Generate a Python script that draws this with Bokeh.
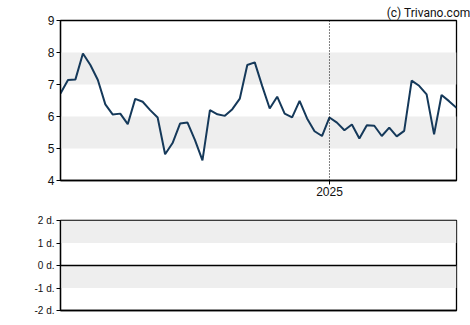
import pandas as pd
from bokeh.plotting import figure
from bokeh.layouts import column
from bokeh.models import (BoxAnnotation, Span, FixedTicker, CustomJSTickFormatter,
                          Range1d, ColumnDataSource)
from bokeh.embed import file_html
from bokeh.resources import INLINE

# ---- data ----
start_date = "2024-04-24"
prices = [6.72, 7.14, 7.16, 7.97, 7.61, 7.14, 6.38, 6.06, 6.09, 5.76, 6.55, 6.46, 6.20,
          5.97, 4.82, 5.17, 5.78, 5.81, 5.26, 4.63, 6.20, 6.07, 6.02, 6.23, 6.56,
          7.61, 7.69, 6.95, 6.25, 6.62, 6.09, 5.97, 6.49, 5.94, 5.54, 5.39, 5.97,
          5.81, 5.57, 5.75, 5.31, 5.73, 5.71, 5.39, 5.65, 5.38, 5.55, 7.12, 6.96,
          6.69, 5.44, 6.67, 6.48, 6.27]
dates = pd.date_range(start_date, periods=len(prices), freq="7D")
year_marker = pd.Timestamp("2025-01-01")
year_label = "2025"
price_ticks = [4, 5, 6, 7, 8, 9]
price_bands = [(5, 6), (7, 8)]
lower_ticks = [-2, -1, 0, 1, 2]
lower_labels = {-2: "-2 d.", -1: "-1 d.", 0: "0 d.", 1: "1 d.", 2: "2 d."}
lower_bands = [(1, 2), (-1, 0)]
credit = "(c) Trivano.com"

LINE = "#15395a"
BAND = "#eeeeee"
FONT = "Liberation Sans"

src = ColumnDataSource(dict(date=dates, price=prices))


def style(p, size):
    p.outline_line_color = "black"
    p.outline_line_width = 1.3
    p.grid.visible = False
    for ax in p.axis:
        ax.axis_line_color = "black"
        ax.axis_line_width = 1.3
        ax.major_tick_line_color = "black"
        ax.major_tick_out = 4
        ax.major_tick_in = 0
        ax.minor_tick_line_color = None
        ax.major_label_text_font = FONT
        ax.major_label_text_font_size = size
        ax.major_label_text_color = "#111111"
        ax.major_label_standoff = 2


# ---- top chart ----
p = figure(width=470, height=205, x_axis_type="datetime",
           x_range=Range1d(dates[0], dates[-1]),
           y_range=Range1d(4, 9), output_backend="svg", toolbar_location=None,
           min_border_left=60, min_border_right=14, min_border_top=20, min_border_bottom=25)
p.title.text = credit
p.title.align = "right"
p.title.text_font = "Roboto"
p.title.text_font_style = "normal"
p.title.text_font_size = "12px"
p.title.text_color = "#111111"
p.title.offset = -14
p.title.standoff = 2
for lo, hi in price_bands:
    p.add_layout(BoxAnnotation(bottom=lo, top=hi, fill_color=BAND, fill_alpha=1,
                               line_alpha=0, level="underlay"))
p.add_layout(Span(location=year_marker, dimension="height", line_color="black",
                  line_width=1, line_dash="1 2"))
p.line("date", "price", source=src, line_color=LINE, line_width=2)
p.yaxis.ticker = FixedTicker(ticks=price_ticks)
p.xaxis.ticker = FixedTicker(ticks=[year_marker.value // 10**6])
p.xaxis.formatter = CustomJSTickFormatter(args=dict(lbl=year_label), code="return lbl;")
style(p, "12px")

# ---- bottom chart ----
q = figure(width=470, height=120, x_axis_type="datetime",
           x_range=Range1d(dates[0], dates[-1]),
           y_range=Range1d(-2, 2), output_backend="svg", toolbar_location=None,
           min_border_left=60, min_border_right=14, min_border_top=15, min_border_bottom=15)
for lo, hi in lower_bands:
    q.add_layout(BoxAnnotation(bottom=lo, top=hi, fill_color=BAND, fill_alpha=1,
                               line_alpha=0, level="underlay"))
q.add_layout(Span(location=0, dimension="width", line_color="black", line_width=1.3))
q.yaxis.ticker = FixedTicker(ticks=lower_ticks)
q.yaxis.major_label_overrides = lower_labels
q.xaxis.ticker = FixedTicker(ticks=[])
style(q, "10px")

layout = column(p, q, spacing=0)
open("out.html", "w").write(file_html(layout, INLINE))
